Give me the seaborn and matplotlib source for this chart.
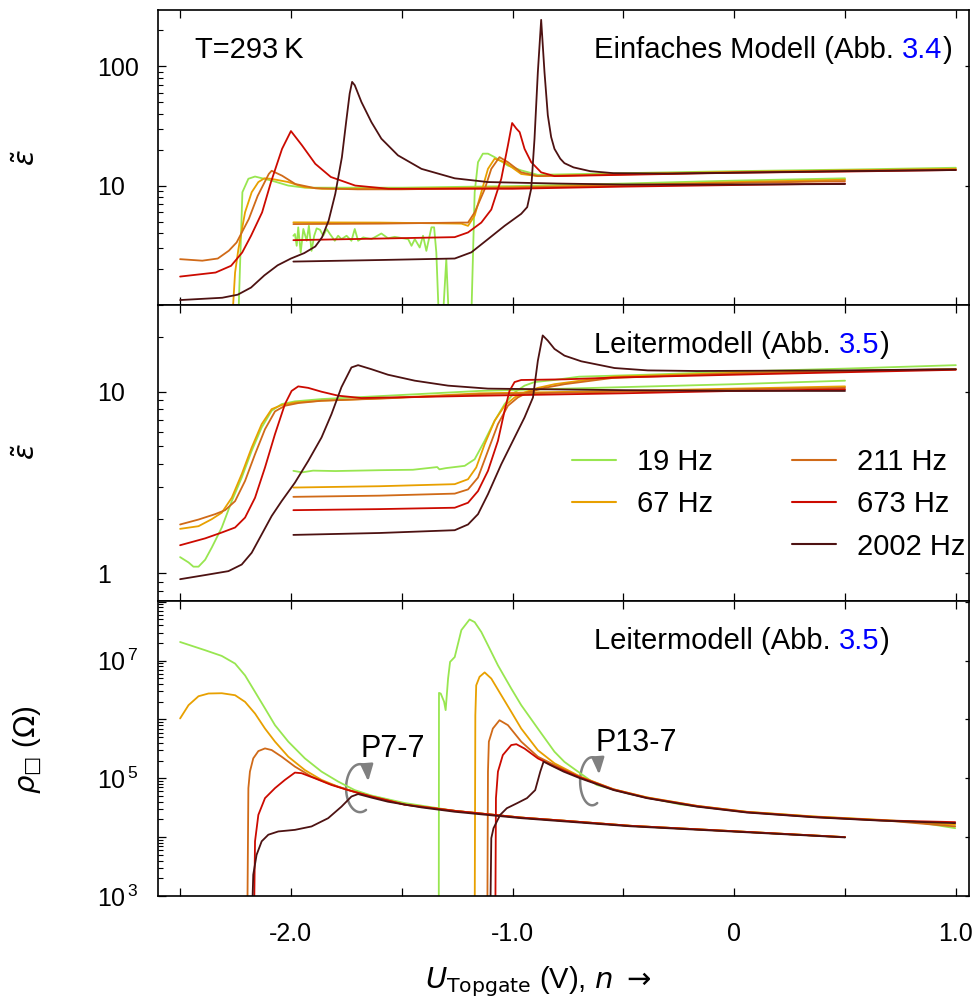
import numpy as np
import pandas as pd
import matplotlib
matplotlib.use("Agg")
import matplotlib.pyplot as plt
import seaborn as sns
from matplotlib.ticker import FixedLocator, FixedFormatter, LogLocator, NullFormatter
from matplotlib.path import Path
from matplotlib.patches import FancyArrowPatch
from matplotlib.transforms import IdentityTransform
from matplotlib.lines import Line2D

# ---------------------------------------------------------------- series
FREQS = ["19 Hz", "67 Hz", "211 Hz", "673 Hz", "2002 Hz"]
COLORS = ["#98e650", "#e8a000", "#d06a18", "#cc0a00", "#4d1212"]
SAMPLES = ["P7-7", "P13-7"]

# permittivity, simple model  (U_Topgate in V, eps)
EINF_P7_19 = [(-2.237, 0.8), (-2.219, 8.8), (-2.192, 11.4), (-2.162, 11.9), (-2.087, 11.0),
              (-2.012, 10.0), (-1.937, 9.6), (-1.5, 9.6), (-1.0, 9.9), (-0.5, 10.4), (0.0, 11.0), (0.5, 11.5)]
EINF_P7_67 = [(-2.264, 0.8), (-2.252, 1.87), (-2.237, 2.94), (-2.207, 5.97), (-2.177, 8.8), (-2.147, 10.7),
              (-2.12, 11.5), (-2.09, 11.4), (-2.012, 10.7), (-1.94, 9.7), (-1.86, 9.4), (-1.5, 9.4),
              (-1.0, 9.7), (-0.5, 10.1), (0.0, 10.7), (0.5, 11.2)]
EINF_P7_211 = [(-2.5, 2.42), (-2.40, 2.35), (-2.33, 2.45), (-2.28, 2.85), (-2.245, 3.34), (-2.19, 5.25),
               (-2.15, 8.2), (-2.10, 12.5), (-2.087, 13.3), (-2.04, 12.1), (-1.98, 10.3), (-1.89, 9.5),
               (-1.7, 9.3), (-1.5, 9.3), (-1.0, 9.6), (-0.5, 10.0), (0.0, 10.5), (0.5, 10.9)]
EINF_P7_673 = [(-2.5, 1.73), (-2.34, 1.87), (-2.27, 2.13), (-2.22, 2.75), (-2.18, 3.8), (-2.13, 5.97),
               (-2.09, 10.7), (-2.04, 20.3), (-2.0, 28.6), (-1.95, 21.7), (-1.89, 15.2), (-1.82, 11.8),
               (-1.71, 10.0), (-1.56, 9.4), (-1.0, 9.4), (-0.5, 9.8), (0.0, 10.1), (0.5, 10.4)]
EINF_P7_2002 = [(-2.5, 1.10), (-2.31, 1.15), (-2.24, 1.22), (-2.18, 1.40), (-2.12, 1.77), (-2.06, 2.15),
                (-2.0, 2.45), (-1.94, 2.72), (-1.89, 3.09), (-1.86, 3.68), (-1.83, 5.08), (-1.80, 8.51),
                (-1.77, 17.3), (-1.75, 35.2), (-1.735, 58.9), (-1.724, 73.8), (-1.712, 69.2), (-1.682, 50.1),
                (-1.637, 34.0), (-1.592, 24.7), (-1.517, 17.9), (-1.411, 13.8), (-1.261, 11.5),
                (-1.111, 10.7), (-0.8, 10.4), (-0.5, 10.2), (0.0, 10.2), (0.5, 10.3)]
EINF_P13_19 = [(-1.989, 3.80), (-1.982, 3.93), (-1.974, 3.13), (-1.967, 4.47), (-1.956, 2.75), (-1.944, 4.33),
               (-1.929, 3.45), (-1.919, 4.61), (-1.907, 2.84), (-1.895, 3.80), (-1.884, 4.38), (-1.869, 4.27),
               (-1.854, 3.80), (-1.839, 4.33), (-1.824, 3.93), (-1.802, 3.45), (-1.787, 3.80), (-1.772, 3.56),
               (-1.749, 3.80), (-1.727, 3.45), (-1.712, 4.33), (-1.697, 3.45), (-1.674, 3.68), (-1.637, 3.56),
               (-1.592, 3.97), (-1.562, 3.62), (-1.532, 3.72), (-1.471, 3.56), (-1.456, 3.13), (-1.441, 3.56),
               (-1.419, 3.03), (-1.404, 3.80), (-1.389, 2.84), (-1.366, 4.47), (-1.354, 4.47), (-1.344, 2.75),
               (-1.333, 0.8), (-1.314, 0.8), (-1.299, 2.42), (-1.288, 0.8), (-1.186, 0.8), (-1.171, 8.8),
               (-1.156, 15.7), (-1.134, 18.5), (-1.111, 18.5), (-1.081, 17.3), (-1.021, 14.7),
               (-0.961, 13.4), (-0.886, 12.3), (-0.5, 12.7), (0.0, 13.2), (0.5, 13.6), (1.0, 14.1)]
EINF_P13_67 = [(-1.989, 4.92), (-1.6, 4.9), (-1.231, 4.8), (-1.201, 4.6), (-1.171, 5.6), (-1.141, 8.8),
               (-1.111, 13.8), (-1.081, 16.8), (-1.036, 15.7), (-0.961, 12.5), (-0.886, 12.0),
               (-0.5, 12.5), (0.0, 13.0), (0.5, 13.4), (1.0, 13.8)]
EINF_P13_211 = [(-1.989, 4.76), (-1.6, 4.8), (-1.231, 4.9), (-1.201, 4.9), (-1.171, 5.97), (-1.126, 9.3),
                (-1.096, 13.8), (-1.059, 17.3), (-1.021, 15.7), (-0.961, 12.9), (-0.886, 12.0),
                (-0.5, 12.4), (0.0, 12.9), (0.5, 13.3), (1.0, 13.6)]
EINF_P13_673 = [(-1.989, 3.49), (-1.6, 3.6), (-1.261, 3.7), (-1.201, 4.05), (-1.141, 4.9), (-1.096, 6.3),
                (-1.051, 11.4), (-1.021, 21.7), (-1.002, 33.4), (-0.983, 30.0), (-0.968, 28.0),
                (-0.946, 20.3), (-0.916, 15.7), (-0.871, 12.9), (-0.811, 12.0), (-0.5, 12.3),
                (0.0, 12.8), (0.5, 13.1), (1.0, 13.5)]
EINF_P13_2002 = [(-1.989, 2.31), (-1.6, 2.38), (-1.261, 2.45), (-1.186, 2.76), (-1.111, 3.56), (-1.036, 4.6),
                 (-0.961, 5.8), (-0.934, 6.6), (-0.916, 9.4), (-0.901, 24.7), (-0.886, 89.0), (-0.871, 244.0),
                 (-0.856, 89.0), (-0.841, 38.8), (-0.826, 25.5), (-0.811, 20.3), (-0.785, 16.8),
                 (-0.766, 15.4), (-0.725, 14.2), (-0.65, 13.2), (-0.545, 12.7), (-0.3, 12.6),
                 (0.0, 12.8), (0.5, 13.2), (1.0, 13.5)]

# permittivity, ladder model
LEIT_P7_19 = [(-2.5, 1.23), (-2.462, 1.15), (-2.44, 1.09), (-2.417, 1.09), (-2.387, 1.19), (-2.357, 1.39),
              (-2.312, 1.79), (-2.267, 2.50), (-2.222, 3.37), (-2.177, 4.73), (-2.132, 6.36), (-2.087, 7.86),
              (-2.042, 8.55), (-1.982, 8.85), (-1.862, 9.11), (-1.562, 9.51), (-1.15, 10.1), (-0.5, 10.6),
              (0.0, 11.0), (0.5, 11.5)]
LEIT_P7_67 = [(-2.5, 1.76), (-2.417, 1.82), (-2.357, 1.99), (-2.312, 2.16), (-2.267, 2.61), (-2.222, 3.52),
              (-2.177, 4.93), (-2.132, 6.63), (-2.087, 8.02), (-2.042, 8.44), (-1.982, 8.73), (-1.862, 8.92),
              (-1.562, 9.23), (-1.15, 9.8), (-0.5, 10.1), (0.0, 10.4), (0.5, 10.7)]
LEIT_P7_211 = [(-2.5, 1.86), (-2.417, 1.98), (-2.342, 2.12), (-2.297, 2.23), (-2.252, 2.50), (-2.207, 3.23),
               (-2.162, 4.53), (-2.117, 6.22), (-2.072, 7.79), (-2.027, 8.37), (-1.967, 8.66), (-1.862, 8.92),
               (-1.562, 9.2), (-1.15, 9.7), (-0.5, 10.0), (0.0, 10.3), (0.5, 10.5)]
LEIT_P7_673 = [(-2.5, 1.43), (-2.387, 1.56), (-2.312, 1.68), (-2.252, 1.79), (-2.207, 2.03), (-2.162, 2.61),
               (-2.117, 3.83), (-2.072, 5.84), (-2.027, 8.55), (-1.997, 10.1), (-1.967, 10.7), (-1.922, 10.5),
               (-1.862, 10.0), (-1.787, 9.51), (-1.682, 9.23), (-1.15, 9.5), (-0.5, 9.8), (0.0, 10.1),
               (0.5, 10.3)]
LEIT_P7_2002 = [(-2.5, 0.93), (-2.387, 0.98), (-2.282, 1.03), (-2.222, 1.12), (-2.177, 1.30), (-2.132, 1.64),
                (-2.087, 2.07), (-2.042, 2.50), (-1.982, 3.16), (-1.922, 4.16), (-1.862, 5.60), (-1.817, 7.53),
                (-1.772, 10.6), (-1.727, 13.6), (-1.697, 14.0), (-1.637, 13.3), (-1.562, 12.4),
                (-1.441, 11.5), (-1.291, 10.8), (-1.111, 10.4), (-0.5, 10.2), (0.0, 10.1), (0.5, 10.1)]
LEIT_P13_19 = [(-1.989, 3.67), (-1.95, 3.60), (-1.9, 3.68), (-1.8, 3.66), (-1.6, 3.70), (-1.45, 3.72),
               (-1.34, 3.85), (-1.33, 3.74), (-1.30, 3.80), (-1.216, 3.91), (-1.171, 4.25), (-1.126, 5.37),
               (-1.081, 6.92), (-1.036, 8.55), (-0.991, 9.91), (-0.946, 10.8), (-0.901, 11.3),
               (-0.811, 11.6), (-0.7, 12.1), (-0.4, 12.4), (0.0, 12.9), (0.5, 13.4), (1.0, 14.0)]
LEIT_P13_67 = [(-1.989, 2.97), (-1.6, 3.02), (-1.261, 3.10), (-1.201, 3.30), (-1.164, 3.83), (-1.126, 5.14),
               (-1.081, 6.92), (-1.036, 8.37), (-0.991, 9.30), (-0.946, 9.91), (-0.886, 10.5),
               (-0.811, 11.0), (-0.694, 11.5), (-0.544, 12.1), (0.0, 12.7), (0.5, 13.0), (1.0, 13.3)]
LEIT_P13_211 = [(-1.989, 2.64), (-1.6, 2.68), (-1.261, 2.75), (-1.201, 2.90), (-1.156, 3.37), (-1.111, 4.73),
                (-1.066, 6.63), (-1.021, 8.37), (-0.976, 9.30), (-0.931, 9.91), (-0.856, 10.5),
                (-0.766, 11.0), (-0.55, 11.9), (0.0, 12.6), (0.5, 13.0), (1.0, 13.3)]
LEIT_P13_673 = [(-1.989, 2.23), (-1.6, 2.26), (-1.261, 2.30), (-1.201, 2.45), (-1.156, 2.84), (-1.111, 3.67),
                (-1.066, 5.37), (-1.036, 7.86), (-1.014, 10.1), (-0.991, 11.3), (-0.961, 11.6),
                (-0.766, 11.7), (-0.5, 12.0), (0.0, 12.4), (0.5, 12.8), (1.0, 13.2)]
LEIT_P13_2002 = [(-1.989, 1.63), (-1.6, 1.67), (-1.261, 1.73), (-1.201, 1.86), (-1.156, 2.12), (-1.111, 2.73),
                 (-1.051, 3.99), (-0.991, 5.60), (-0.946, 7.22), (-0.908, 9.30), (-0.886, 14.8),
                 (-0.864, 20.4), (-0.841, 19.1), (-0.811, 17.2), (-0.766, 15.8), (-0.69, 14.7),
                 (-0.54, 13.5), (-0.39, 13.1), (-0.17, 13.0), (0.5, 13.1), (1.0, 13.3)]

# sheet resistance, ladder model  (Ohm)
RHO_P7_19 = [(-2.5, 2.07e7), (-2.387, 1.50e7), (-2.312, 1.20e7), (-2.252, 8.9e6), (-2.207, 5.6e6),
             (-2.162, 2.94e6), (-2.117, 1.54e6), (-2.072, 8.0e5), (-2.012, 4.2e5), (-1.937, 2.18e5),
             (-1.862, 1.30e5), (-1.787, 8.8e4), (-1.712, 6.3e4), (-1.637, 5.1e4), (-1.562, 4.4e4),
             (-1.487, 3.8e4), (-1.261, 2.8e4), (-1.111, 2.45e4), (-0.961, 2.15e4), (-0.766, 1.9e4),
             (-0.47, 1.56e4), (0.0, 1.26e4), (0.5, 1.0e4)]
RHO_P7_67 = [(-2.5, 1.04e6), (-2.462, 1.75e6), (-2.417, 2.48e6), (-2.372, 2.76e6), (-2.312, 2.79e6),
             (-2.252, 2.58e6), (-2.207, 1.99e6), (-2.162, 1.26e6), (-2.117, 7.0e5), (-2.072, 4.2e5),
             (-2.012, 2.33e5), (-1.937, 1.38e5), (-1.862, 9.4e4), (-1.787, 7.2e4), (-1.712, 5.9e4),
             (-1.637, 4.9e4), (-1.562, 4.2e4), (-1.487, 3.6e4), (-1.261, 2.8e4), (-1.111, 2.45e4),
             (-0.961, 2.15e4), (-0.766, 1.9e4), (-0.47, 1.56e4), (0.0, 1.26e4), (0.5, 1.0e4)]
RHO_P7_211 = [(-2.197, 300.0), (-2.192, 6.8e4), (-2.185, 1.30e5), (-2.170, 2.18e5), (-2.147, 2.9e5),
              (-2.117, 3.22e5), (-2.087, 3.02e5), (-2.042, 2.33e5), (-1.982, 1.58e5), (-1.907, 1.07e5),
              (-1.832, 8.2e4), (-1.757, 6.6e4), (-1.682, 5.4e4), (-1.562, 4.2e4), (-1.487, 3.6e4),
              (-1.261, 2.8e4), (-1.111, 2.45e4), (-0.961, 2.15e4), (-0.766, 1.9e4), (-0.47, 1.56e4),
              (0.0, 1.26e4), (0.5, 1.0e4)]
RHO_P7_673 = [(-2.167, 300.0), (-2.162, 8.5e3), (-2.147, 2.39e4), (-2.117, 4.6e4), (-2.072, 6.8e4),
              (-2.027, 9.4e4), (-1.982, 1.25e5), (-1.952, 1.22e5), (-1.892, 1.0e5), (-1.817, 7.7e4),
              (-1.742, 6.3e4), (-1.637, 4.9e4), (-1.562, 4.2e4), (-1.487, 3.55e4), (-1.261, 2.8e4),
              (-1.111, 2.45e4), (-0.961, 2.15e4), (-0.766, 1.9e4), (-0.47, 1.56e4), (0.0, 1.26e4),
              (0.5, 1.0e4)]
RHO_P7_2002 = [(-2.177, 300.0), (-2.170, 2.3e3), (-2.155, 5.0e3), (-2.132, 8.5e3), (-2.102, 1.10e4),
               (-2.057, 1.25e4), (-1.982, 1.33e4), (-1.907, 1.52e4), (-1.832, 2.10e4), (-1.772, 3.3e4),
               (-1.727, 4.9e4), (-1.697, 5.4e4), (-1.637, 4.7e4), (-1.562, 4.0e4), (-1.411, 3.2e4),
               (-1.261, 2.7e4), (-1.111, 2.38e4), (-0.961, 2.1e4), (-0.766, 1.85e4), (-0.47, 1.53e4),
               (0.0, 1.24e4), (0.5, 0.99e4)]
RHO_P13_19 = [(-1.333, 300.0), (-1.332, 2.83e6), (-1.324, 2.75e6), (-1.309, 2.0e6), (-1.302, 1.44e6),
              (-1.291, 4.95e6), (-1.282, 9.5e6), (-1.261, 1.15e7), (-1.231, 3.3e7), (-1.194, 5.0e7),
              (-1.171, 4.5e7), (-1.141, 3.06e7), (-1.111, 1.82e7), (-1.066, 8.3e6), (-1.006, 3.35e6),
              (-0.961, 1.75e6), (-0.886, 7.0e5), (-0.811, 2.83e5), (-0.766, 1.9e5), (-0.695, 1.22e5),
              (-0.62, 7.7e4), (-0.469, 5.4e4), (-0.243, 3.6e4), (0.057, 2.68e4), (0.358, 2.22e4),
              (0.658, 1.94e4), (0.808, 1.85e4), (0.997, 1.42e4)]
RHO_P13_67 = [(-1.171, 300.0), (-1.168, 1.18e6), (-1.164, 3.8e6), (-1.149, 5.3e6), (-1.126, 6.3e6),
              (-1.096, 4.95e6), (-1.051, 2.58e6), (-1.006, 1.35e6), (-0.961, 7.0e5), (-0.886, 3.0e5),
              (-0.811, 1.8e5), (-0.695, 1.07e5), (-0.544, 6.5e4), (-0.394, 4.75e4), (-0.168, 3.4e4),
              (0.057, 2.7e4), (0.358, 2.25e4), (0.658, 1.97e4), (0.997, 1.62e4)]
RHO_P13_211 = [(-1.114, 300.0), (-1.111, 1.3e5), (-1.107, 4.2e5), (-1.089, 7.0e5), (-1.059, 9.7e5),
               (-1.021, 8.0e5), (-0.961, 4.2e5), (-0.886, 2.33e5), (-0.811, 1.68e5), (-0.695, 1.05e5),
               (-0.544, 6.5e4), (-0.394, 4.7e4), (-0.168, 3.4e4), (0.057, 2.68e4), (0.358, 2.23e4),
               (0.658, 1.95e4), (0.997, 1.52e4)]
RHO_P13_673 = [(-1.078, 300.0), (-1.075, 4.6e4), (-1.066, 1.3e5), (-1.044, 2.48e5), (-1.006, 3.67e5),
               (-0.983, 3.8e5), (-0.946, 3.2e5), (-0.886, 2.18e5), (-0.811, 1.58e5), (-0.695, 1.03e5),
               (-0.544, 6.4e4), (-0.394, 4.65e4), (-0.168, 3.35e4), (0.057, 2.65e4), (0.358, 2.2e4),
               (0.658, 1.93e4), (0.997, 1.8e4)]
RHO_P13_2002 = [(-1.101, 300.0), (-1.096, 9.6e3), (-1.086, 1.42e4), (-1.056, 2.39e4), (-1.026, 3.1e4),
                (-0.980, 3.77e4), (-0.935, 4.6e4), (-0.898, 6.3e4), (-0.875, 1.3e5), (-0.860, 1.92e5),
                (-0.830, 1.68e5), (-0.770, 1.3e5), (-0.695, 1.0e5), (-0.544, 6.3e4), (-0.394, 4.6e4),
                (-0.168, 3.3e4), (0.057, 2.62e4), (0.358, 2.18e4), (0.658, 1.91e4), (0.997, 1.73e4)]

PANEL_EINF = [EINF_P7_19, EINF_P7_67, EINF_P7_211, EINF_P7_673, EINF_P7_2002,
              EINF_P13_19, EINF_P13_67, EINF_P13_211, EINF_P13_673, EINF_P13_2002]
PANEL_LEIT = [LEIT_P7_19, LEIT_P7_67, LEIT_P7_211, LEIT_P7_673, LEIT_P7_2002,
              LEIT_P13_19, LEIT_P13_67, LEIT_P13_211, LEIT_P13_673, LEIT_P13_2002]
PANEL_RHO = [RHO_P7_19, RHO_P7_67, RHO_P7_211, RHO_P7_673, RHO_P7_2002,
             RHO_P13_19, RHO_P13_67, RHO_P13_211, RHO_P13_673, RHO_P13_2002]

X_TICKS = [-2.5, -2.0, -1.5, -1.0, -0.5, 0.0, 0.5, 1.0]
X_TICKLABELS = ["", "-2.0", "", "-1.0", "", "0", "", "1.0"]


def long_frame(curves):
    rows = []
    for i, pts in enumerate(curves):
        sample = SAMPLES[i // 5]
        freq = FREQS[i % 5]
        for u, v in pts:
            rows.append((sample, freq, sample + " " + freq, u, v))
    return pd.DataFrame(rows, columns=["sample", "freq", "curve", "U", "val"])


# ---------------------------------------------------------------- style
sns.set_theme(style="ticks")
plt.rcParams.update({
    "font.family": ["Liberation Sans", "DejaVu Sans"],
    "mathtext.fontset": "dejavusans",
    "axes.edgecolor": "black",
    "axes.linewidth": 1.2,
    "xtick.color": "black",
    "ytick.color": "black",
    "text.color": "black",
    "axes.labelcolor": "black",
})
FS = 21
TICK_FS = 18
PALETTE = dict(zip(FREQS, COLORS))

fig = plt.figure(figsize=(9.75, 10), dpi=100)
gs = fig.add_gridspec(3, 1, left=0.162, right=0.994, top=0.9905, bottom=0.104, hspace=0)
axes = [fig.add_subplot(gs[i]) for i in range(3)]

frames = [long_frame(PANEL_EINF), long_frame(PANEL_LEIT), long_frame(PANEL_RHO)]
ylims = [(1.0, 298.0), (0.71, 30.0), (1e3, 1.05e8)]
y_major = [[1, 10, 100], [1, 10], [1e3, 1e4, 1e5, 1e6, 1e7, 1e8]]
y_labels = [["", "10", "100"], ["1", "10"],
            [r"$\mathregular{10^{\,3}}$", "", r"$\mathregular{10^{\,5}}$", "",
             r"$\mathregular{10^{\,7}}$", ""]]

for ax, df, yl, ym, ylab in zip(axes, frames, ylims, y_major, y_labels):
    sns.lineplot(data=df, x="U", y="val", hue="freq", hue_order=FREQS, palette=PALETTE,
                 units="curve", estimator=None, sort=False, legend=False, lw=1.3, ax=ax)
    ax.set_yscale("log")
    ax.set_xlim(-2.6, 1.06)
    ax.set_ylim(*yl)
    ax.set_xlabel("")
    ax.set_ylabel("")
    ax.yaxis.set_major_locator(FixedLocator(ym))
    ax.yaxis.set_major_formatter(FixedFormatter(ylab))
    ax.yaxis.set_minor_locator(LogLocator(base=10, subs=np.arange(2, 10), numticks=50))
    ax.yaxis.set_minor_formatter(NullFormatter())
    ax.xaxis.set_major_locator(FixedLocator(X_TICKS))
    ax.tick_params(axis="x", which="major", direction="in", top=True, bottom=True,
                   length=6, width=0.9, labelsize=TICK_FS, pad=19)
    ax.tick_params(axis="y", which="major", direction="in", left=True, right=True,
                   length=6, width=0.9, labelsize=TICK_FS, pad=44)
    ax.tick_params(axis="y", which="minor", direction="in", left=True, right=False,
                   length=3.5, width=0.8)
    for lab in ax.get_yticklabels():
        lab.set_horizontalalignment("left")
    for t in ax.yaxis.get_major_ticks():
        t.tick2line.set_markersize(3)
    for s in ax.spines.values():
        s.set_visible(True)

for ax in axes[:2]:
    ax.tick_params(axis="x", labelbottom=False)
axes[2].xaxis.set_major_formatter(FixedFormatter(X_TICKLABELS))


# ---------------------------------------------------------------- text
def model_caption(ax, head, ref):
    t1 = ax.text(0.538, 0.836, head, transform=ax.transAxes, fontsize=FS, va="baseline", ha="left")
    t2 = ax.annotate(ref, xy=(1, 0), xycoords=t1, xytext=(5.8, 0), textcoords="offset points",
                     fontsize=FS, color="#0000ff", va="bottom", ha="left")
    ax.annotate(")", xy=(1, 0), xycoords=t2, fontsize=FS, va="bottom", ha="left")


axes[0].text(0.046, 0.835, "T=293\u2009K", transform=axes[0].transAxes, fontsize=FS,
             va="baseline", ha="left")
model_caption(axes[0], "Einfaches Modell (Abb.", "3.4")
model_caption(axes[1], "Leitermodell (Abb.", "3.5")
model_caption(axes[2], "Leitermodell (Abb.", "3.5")

# legend: 19/67 in the first column, 211/673/2002 in the second
handles = [Line2D([], [], color=c, lw=1.5) for c in COLORS]
blank = Line2D([], [], color="none")
axes[1].legend([handles[0], handles[1], blank, handles[2], handles[3], handles[4]],
               ["19 Hz", "67 Hz", "", "211 Hz", "673 Hz", "2002 Hz"],
               ncol=2, loc="upper left", bbox_to_anchor=(0.511, 0.516), frameon=False,
               fontsize=FS, handlelength=1.5, handletextpad=0.72, columnspacing=2.7,
               labelspacing=0.49, borderpad=0, borderaxespad=0)

# sample markers with rotation arrows
ax = axes[2]
ax.text(-1.688, 2.27e5, "P7-7", fontsize=22, ha="left", va="baseline")
ax.text(-0.627, 2.87e5, "P13-7", fontsize=22, ha="left", va="baseline")


def rotation_arrow(ax, u, rho, rx, ry):
    cx, cy = ax.transData.transform((u, rho))
    ang = np.radians(np.linspace(-65, -300, 60))
    xs = cx + rx * np.cos(ang)
    ys = cy + ry * np.sin(ang)
    verts = list(zip(xs, ys)) + [(cx + 0.58 * rx, cy + 0.28 * ry)]
    arrow = FancyArrowPatch(path=Path(verts), arrowstyle="-|>,head_length=1.0,head_width=0.38",
                            mutation_scale=10, color="#808080", lw=1.8,
                            transform=IdentityTransform(), clip_on=False)
    ax.add_patch(arrow)


rotation_arrow(ax, -1.688, 6.8e4, 14, 24)
rotation_arrow(ax, -0.641, 8.9e4, 12, 24)

# axis titles
fig.text(27 / 975, 1 - 158 / 1000, r"$\tilde{\epsilon}$", rotation=90, fontsize=FS, ha="center", va="center")
fig.text(27 / 975, 1 - 452 / 1000, r"$\tilde{\epsilon}$", rotation=90, fontsize=FS, ha="center", va="center")
fig.text(28 / 975, 1 - 750 / 1000, r"$\rho_{□}$ ($\Omega$)", rotation=90, fontsize=FS,
         ha="center", va="center")
fig.text(538 / 975, 1 - 982 / 1000, r"$U_{\mathrm{Topgate}}$ (V), $n$ $\rightarrow$",
         fontsize=FS, ha="center", va="center")

fig.savefig("out.png", dpi=100)
